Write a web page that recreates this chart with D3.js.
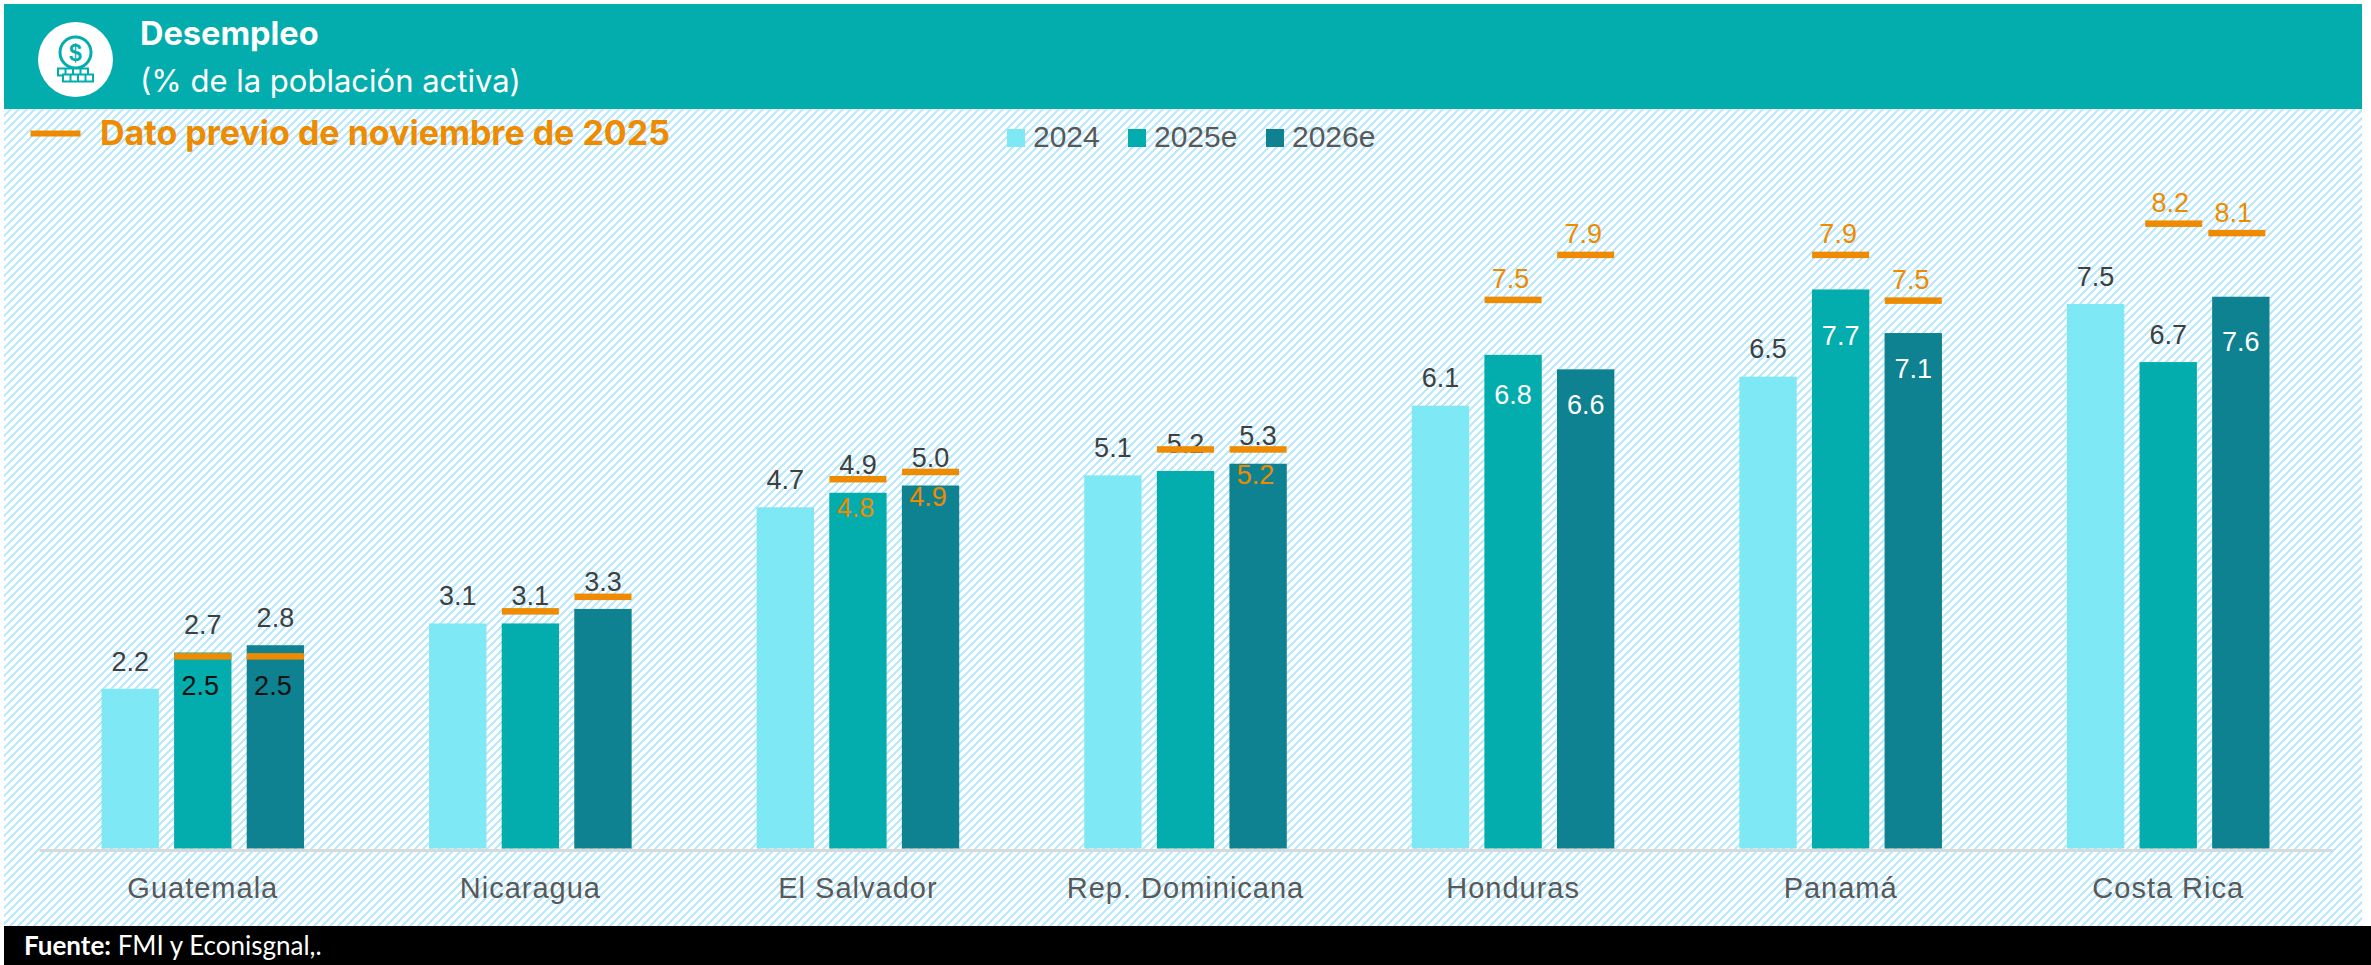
<!DOCTYPE html>
<html>
<head>
<meta charset="utf-8">
<script src="https://cdn.jsdelivr.net/npm/d3@7"></script>
<style>
  html, body { margin: 0; padding: 0; background: #fff; overflow: hidden; }
  svg { display: block; font-family: "Liberation Sans", Arial, sans-serif; }
</style>
</head>
<body>
<svg id="chart" width="2371" height="965"></svg>
<script>
// data
var countries = ["Guatemala", "Nicaragua", "El Salvador", "Rep. Dominicana", "Honduras", "Panamá", "Costa Rica"];
var years = ["2024", "2025e", "2026e"];
var values2024 = [2.2, 3.1, 4.7, 5.14, 6.1, 6.5, 7.5];
var values2025 = [2.7, 3.1, 4.9, 5.2, 6.8, 7.7, 6.7];
var values2026 = [2.8, 3.3, 5.0, 5.3, 6.6, 7.1, 7.6];
// previous figures as printed (null = not printed)
var prevLabel2025 = [2.5, null, 4.8, null, 7.5, 7.9, 8.2];
var prevLabel2026 = [2.5, null, 4.9, 5.2, 7.9, 7.5, 8.1];
// the orange dashes were placed by hand, so they don't sit on the printed number
var prevMark2025 = [2.65, 3.27, 5.09, 5.5, 7.56, 8.18, 8.61];
var prevMark2026 = [2.65, 3.47, 5.19, 5.5, 8.18, 7.55, 8.48];

var colors = { "2024": "#7FE8F5", "2025e": "#03ADAD", "2026e": "#0E8290" };
var orange = "#EE8B00";

var width = 2371, height = 965;
var svg = d3.select("#chart");

// Hatched background
var pattern = svg.append("defs").append("pattern")
    .attr("id", "hatch")
    .attr("width", 8).attr("height", 8)
    .attr("patternUnits", "userSpaceOnUse");
pattern.append("path")
    .attr("d", "M-2,2L2,-2M0,8L8,0M6,10L10,6")
    .attr("stroke", "#B8E9FC")
    .attr("stroke-width", 2.2)
    .attr("shape-rendering", "crispEdges");

svg.append("rect").attr("x", 4).attr("y", 109).attr("width", 2358).attr("height", 817)
    .attr("fill", "url(#hatch)");

// Header
svg.append("rect").attr("x", 4).attr("y", 4).attr("width", 2358).attr("height", 105)
    .attr("fill", "#03ADAD");

var icon = svg.append("g").attr("transform", "translate(75.5,59.5)");
icon.append("circle").attr("r", 37.5).attr("fill", "#fff");
icon.append("circle").attr("cy", -7).attr("r", 15.5)
    .attr("fill", "none").attr("stroke", "#03ADAD").attr("stroke-width", 3);
icon.append("text").attr("y", -7).attr("dy", ".36em").attr("text-anchor", "middle")
    .attr("font-size", 23).attr("font-weight", "bold").attr("fill", "#03ADAD").text("$");
[[-17.5, 9], [-12.5, 15]].forEach(function (row) {
    icon.append("rect").attr("x", row[0]).attr("y", row[1]).attr("width", 30).attr("height", 7)
        .attr("fill", "#fff").attr("stroke", "#03ADAD").attr("stroke-width", 2);
    d3.range(1, 4).forEach(function (i) {
        icon.append("rect").attr("x", row[0] + i * 7.5 - 1).attr("y", row[1]).attr("width", 2).attr("height", 7)
            .attr("fill", "#03ADAD");
    });
});

svg.append("text").attr("x", 140).attr("y", 45)
    .attr("font-family", "Inter").attr("font-size", 32.5).attr("font-weight", 700).attr("fill", "#fff")
    .text("Desempleo");
svg.append("text").attr("x", 140).attr("y", 92)
    .attr("font-family", "Inter").attr("font-size", 31).attr("fill", "#fff")
    .text("(% de la población activa)");

// Orange legend
svg.append("rect").attr("x", 30.5).attr("y", 130.5).attr("width", 50).attr("height", 6).attr("fill", orange);
svg.append("text").attr("x", 100).attr("y", 145)
    .attr("font-family", "Inter").attr("font-size", 34).attr("font-weight", 700).attr("fill", orange)
    .text("Dato previo de noviembre de 2025");

// Year legend
var legendX = { "2024": 1007, "2025e": 1128, "2026e": 1266 };
years.forEach(function (yr) {
    svg.append("rect").attr("x", legendX[yr]).attr("y", 129).attr("width", 18).attr("height", 18)
        .attr("fill", colors[yr]);
    svg.append("text").attr("x", legendX[yr] + 26).attr("y", 147)
        .attr("font-size", 30).attr("fill", "#595959").text(yr);
});

// Scales
var x0 = d3.scaleBand().domain(countries).range([39, 2332]).paddingInner(0.3816).paddingOuter(0.1908);
var x1 = d3.scaleBand().domain(years).range([0, x0.bandwidth()]).paddingInner(0.21);
var y = d3.scaleLinear().domain([0, 9]).range([848.5, 848.5 - 9 * 72.6]);

var seriesValues = { "2024": values2024, "2025e": values2025, "2026e": values2026 };
var prevLabels = { "2025e": prevLabel2025, "2026e": prevLabel2026 };
var prevMarks = { "2025e": prevMark2025, "2026e": prevMark2026 };

var rows = [];
countries.forEach(function (c, i) {
    years.forEach(function (yr) {
        rows.push({
            country: c, year: yr, value: seriesValues[yr][i],
            prev: prevLabels[yr] ? prevLabels[yr][i] : null,
            mark: prevMarks[yr] ? prevMarks[yr][i] : null
        });
    });
});
rows.forEach(function (d) {
    d.key = d.country + "|" + d.year;
    d.cx = x0(d.country) + x1(d.year) + x1.bandwidth() / 2;
});

// Bars
svg.append("g").selectAll("rect")
    .data(rows).enter().append("rect")
    .attr("x", function (d) { return x0(d.country) + x1(d.year); })
    .attr("y", function (d) { return y(d.value); })
    .attr("width", x1.bandwidth())
    .attr("height", function (d) { return y(0) - y(d.value); })
    .attr("fill", function (d) { return colors[d.year]; });

// Axis
var axis = svg.append("g").attr("transform", "translate(0,850)")
    .call(d3.axisBottom(x0).tickSize(0).tickPadding(27));
axis.select(".domain").attr("stroke", "#D9D9D9").attr("stroke-width", 3);
axis.selectAll("text")
    .style("font-family", "Liberation Sans")
    .style("font-size", "29px")
    .style("letter-spacing", "1px")
    .attr("fill", "#595959");

// Value labels, above the bar unless listed here (distance down from bar top)
var insideBar = {
    "Honduras|2025e": 39, "Honduras|2026e": 35,
    "Panamá|2025e": 46, "Panamá|2026e": 35,
    "Costa Rica|2026e": 45
};
svg.append("g").selectAll("text")
    .data(rows).enter().append("text")
    .attr("x", function (d) { return d.cx; })
    .attr("y", function (d) {
        return y(d.value) + (insideBar[d.key] ? insideBar[d.key] : -28);
    })
    .attr("dy", ".36em")
    .attr("text-anchor", "middle")
    .attr("font-size", 27)
    .attr("fill", function (d) { return insideBar[d.key] ? "#fff" : "#404040"; })
    .text(function (d) { return d.value.toFixed(1); });

// Previous figure dashes, Costa Rica's are off their bars in the original
var markShift = { "Costa Rica|2025e": 5.5, "Costa Rica|2026e": -4 };
var withMark = rows.filter(function (d) { return d.mark !== null; });
svg.append("g").selectAll("rect")
    .data(withMark).enter().append("rect")
    .attr("x", function (d) { return d.cx - 28.5 + (markShift[d.key] || 0); })
    .attr("y", function (d) { return y(d.mark) - 3; })
    .attr("width", 57)
    .attr("height", 6.5)
    .attr("fill", orange);

// Previous figure labels
var prevInside = {
    "Guatemala|2025e": 33, "Guatemala|2026e": 40,
    "El Salvador|2025e": 15, "El Salvador|2026e": 11,
    "Rep. Dominicana|2026e": 11
};
svg.append("g").selectAll("text")
    .data(rows.filter(function (d) { return d.prev !== null; })).enter().append("text")
    .attr("x", function (d) { return d.cx - 2.5 + (markShift[d.key] ? markShift[d.key] - 1 : 0); })
    .attr("y", function (d) {
        if (prevInside[d.key]) return y(d.value) + prevInside[d.key];
        return y(d.mark) - 21;
    })
    .attr("dy", ".36em")
    .attr("text-anchor", "middle")
    .attr("font-size", 27)
    .attr("fill", function (d) { return d.country === "Guatemala" ? "#111" : orange; })
    .text(function (d) { return d.prev.toFixed(1); });

// Footer
svg.append("rect").attr("x", 4).attr("y", 926).attr("width", width - 4).attr("height", height - 926)
    .attr("fill", "#000");
var foot = svg.append("text").attr("x", 24).attr("y", 955)
    .attr("font-family", "Lato").attr("font-size", 26).attr("fill", "#fff");
foot.append("tspan").attr("font-weight", 700).text("Fuente:");
foot.append("tspan").text(" FMI y Econisgnal,.");
</script>
</body>
</html>
